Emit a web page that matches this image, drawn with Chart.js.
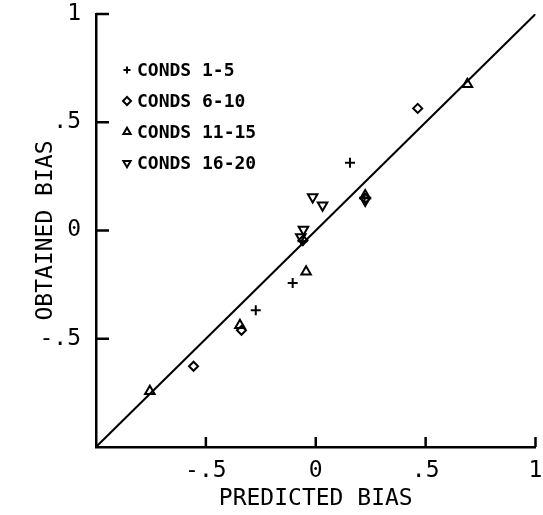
<!DOCTYPE html>
<html>
<head>
<meta charset="utf-8">
<script src="https://cdn.jsdelivr.net/npm/chart.js@4/dist/chart.umd.js"></script>
<style>
  html, body { margin: 0; padding: 0; background: #fff; }
</style>
</head>
<body>
<canvas id="myChart" width="543" height="515"></canvas>
<script>
// values (predicted bias vs obtained bias)
const plusX = [0.156, -0.105, -0.273, 0.222, -0.060];
const plusY = [0.313, -0.242, -0.368, 0.150, -0.050];
const diamondX = [0.464, -0.556, -0.338, 0.226, -0.058];
const diamondY = [0.564, -0.627, -0.461, 0.148, -0.045];
const triUpX = [0.690, -0.755, -0.345, -0.044, 0.225];
const triUpY = [0.676, -0.742, -0.438, -0.191, 0.162];
const triDownX = [-0.014, 0.031, -0.056, -0.068, 0.225];
const triDownY = [0.155, 0.117, 0.005, -0.030, 0.138];
const diagX = [-1, 1];
const diagY = [-1, 1];

const groupLabels = ['CONDS 1-5', 'CONDS 6-10', 'CONDS 11-15', 'CONDS 16-20'];
const tickValues = [-1, -0.5, 0, 0.5, 1];
const tickLabels = ['', '-.5', '0', '.5', '1'];

const FONT = '"DejaVu Sans Mono", "Liberation Mono", monospace';

function toPoints(xs, ys) {
  return xs.map((x, i) => ({ x: x, y: ys[i] }));
}

function tickText(value) {
  const i = tickValues.findIndex((v) => Math.abs(v - value) < 1e-9);
  return i >= 0 ? tickLabels[i] : '';
}

// marker looks, one per group
const markers = [
  { pointStyle: 'cross', radius: 5, rotation: 0 },
  { pointStyle: 'rectRot', radius: 4.5, rotation: 0 },
  { pointStyle: 'triangle', radius: 5.5, rotation: 0 },
  { pointStyle: 'triangle', radius: 5.5, rotation: 180 },
];
const groupData = [
  toPoints(plusX, plusY),
  toPoints(diamondX, diamondY),
  toPoints(triUpX, triUpY),
  toPoints(triDownX, triDownY),
];

const datasets = groupLabels.map((label, i) => ({
  type: 'scatter',
  label: label,
  data: groupData[i],
  pointStyle: markers[i].pointStyle,
  pointRadius: markers[i].radius,
  pointRotation: markers[i].rotation,
  pointBorderWidth: 2,
  pointBorderColor: '#000',
  pointBackgroundColor: 'rgba(0,0,0,0)',
  borderColor: '#000',
}));

datasets.push({
  type: 'line',
  label: 'diagonal',
  data: toPoints(diagX, diagY),
  borderColor: '#000',
  borderWidth: 2,
  pointRadius: 0,
  fill: false,
});

// inward tick marks + legend box inside the plot
const extras = {
  id: 'extras',
  afterDraw(chart) {
    const ctx = chart.ctx;
    const xs = chart.scales.x;
    const ys = chart.scales.y;
    const area = chart.chartArea;
    ctx.save();
    ctx.strokeStyle = '#000';
    ctx.lineWidth = 2.5;
    tickValues.forEach((v) => {
      if (v === -1) return;
      const py = ys.getPixelForValue(v);
      ctx.beginPath();
      ctx.moveTo(area.left, py);
      ctx.lineTo(area.left + 13, py);
      ctx.stroke();
      const px = xs.getPixelForValue(v);
      ctx.beginPath();
      ctx.moveTo(px, area.bottom);
      ctx.lineTo(px, area.bottom - 10);
      ctx.stroke();
    });

    // legend
    const legendSizes = [3.5, 4, 4.2, 4.2];
    ctx.font = 'bold 18px ' + FONT;
    ctx.textBaseline = 'middle';
    ctx.textAlign = 'left';
    groupLabels.forEach((label, i) => {
      const y = 70 + i * 31;
      ctx.lineWidth = 2;
      ctx.strokeStyle = '#000';
      ctx.fillStyle = 'rgba(0,0,0,0)';
      Chart.helpers.drawPoint(ctx, {
        pointStyle: markers[i].pointStyle,
        radius: legendSizes[i],
        rotation: markers[i].rotation,
        borderWidth: 2,
      }, 127, y);
      ctx.fillStyle = '#000';
      ctx.fillText(label, 137, y + 1);
    });
    ctx.restore();
  },
};

new Chart(document.getElementById('myChart'), {
  data: { datasets: datasets },
  options: {
    responsive: false,
    animation: false,
    layout: { padding: { left: 0, right: 3, top: 14, bottom: 0 } },
    plugins: {
      legend: { display: false },
      tooltip: { enabled: false },
    },
    scales: {
      x: {
        type: 'linear',
        min: -1,
        max: 1,
        afterFit(scale) {
          scale.height = 68;
          scale.paddingLeft = 0;
          scale.paddingRight = 0;
        },
        afterUpdate(scale) {
          scale.paddingLeft = 0;
          scale.paddingRight = 0;
        },
        ticks: {
          stepSize: 0.5,
          color: '#000',
          padding: 10,
          maxRotation: 0,
          font: { family: FONT, size: 23 },
          callback: (v) => tickText(v),
        },
        grid: { drawOnChartArea: false, drawTicks: false },
        border: { display: true, color: '#000', width: 2.5 },
        title: {
          display: true,
          text: 'PREDICTED BIAS',
          color: '#000',
          font: { family: FONT, size: 23 },
          padding: { top: 0, bottom: 2 },
        },
      },
      y: {
        type: 'linear',
        min: -1,
        max: 1,
        afterFit(scale) {
          scale.width = 96;
          scale.paddingTop = 0;
          scale.paddingBottom = 0;
        },
        ticks: {
          stepSize: 0.5,
          color: '#000',
          padding: 15,
          font: { family: FONT, size: 23 },
          callback: (v) => tickText(v),
        },
        grid: { drawOnChartArea: false, drawTicks: false },
        border: { display: true, color: '#000', width: 2.5 },
        title: {
          display: true,
          text: 'OBTAINED BIAS',
          color: '#000',
          font: { family: FONT, size: 23 },
          padding: { top: 32, bottom: 0 },
        },
      },
    },
  },
  plugins: [extras],
});
</script>
</body>
</html>
